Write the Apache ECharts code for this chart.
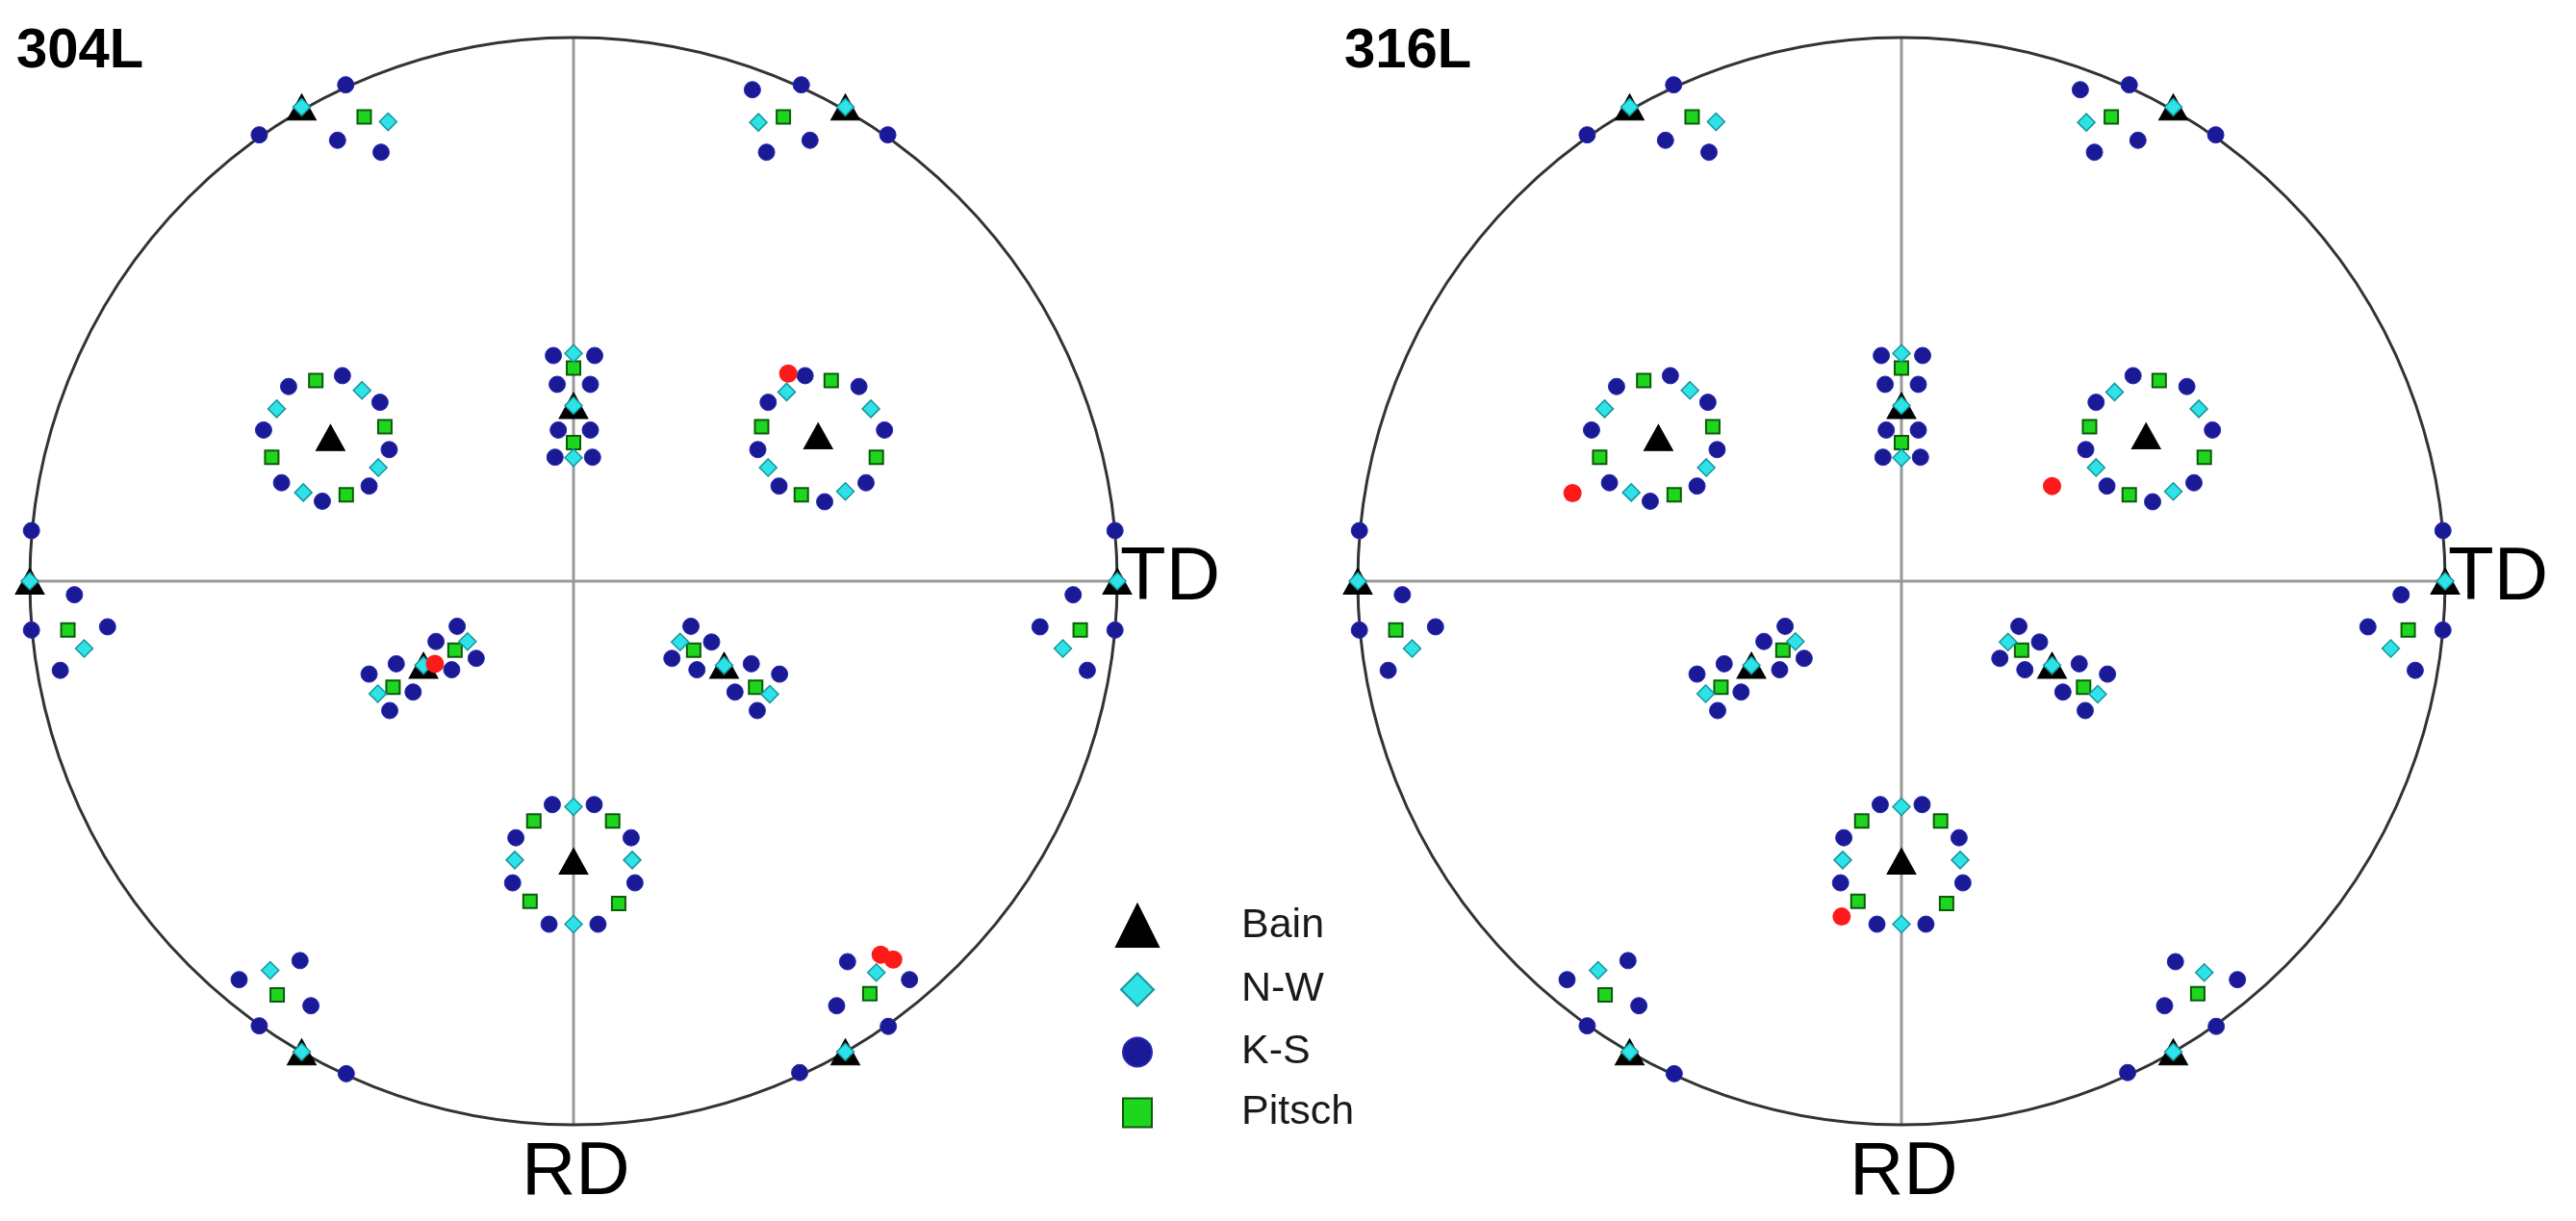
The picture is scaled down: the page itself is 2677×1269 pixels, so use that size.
<!DOCTYPE html>
<html>
<head>
<meta charset="utf-8">
<title>304L / 316L pole figures</title>
<script src="https://cdn.jsdelivr.net/npm/echarts@6/dist/echarts.min.js"></script>
<style>
	html, body { margin: 0; padding: 0; background: #fff; }
	#main { width: 2677px; height: 1269px; }
</style>
</head>
<body>
<div id="main"></div>
<script>
// pole positions in the projection plane (unit circle), x to TD, y away from RD
var bainPoles = [
	[-0.500, 0.872], [0.500, 0.872], [-1.000, 0.000], [1.000, 0.000],
	[-0.500, -0.866], [0.500, -0.866], [0.000, 0.323],
	[-0.447, 0.264], [0.450, 0.267], [0.000, -0.515],
	[-0.276, -0.155], [0.277, -0.155]
];
var nwPoles = [
	[-0.500, 0.872], [0.500, 0.872], [-1.000, 0.000], [1.000, 0.000],
	[-0.500, -0.866], [0.500, -0.866], [0.000, 0.323],
	[-0.276, -0.155], [0.277, -0.155],
	[-0.341, 0.845], [0.340, 0.844],
	[-0.389, 0.351], [-0.359, 0.209], [-0.497, 0.163], [-0.546, 0.317],
	[0.392, 0.348], [0.547, 0.317], [0.500, 0.165], [0.358, 0.209],
	[0.000, 0.419], [0.000, 0.227],
	[-0.900, -0.124], [0.900, -0.124],
	[-0.195, -0.111], [-0.360, -0.207], [0.196, -0.112], [0.361, -0.208],
	[0.000, -0.415], [0.108, -0.513], [0.000, -0.631], [-0.108, -0.513],
	[-0.558, -0.716], [0.557, -0.720]
];
var ksPoles = [
	[-0.578, 0.821], [-0.419, 0.913], [-0.434, 0.811], [-0.354, 0.789],
	[0.419, 0.913], [0.578, 0.821], [0.329, 0.904], [0.435, 0.811], [0.355, 0.789],
	[-0.425, 0.378], [-0.356, 0.329], [-0.339, 0.242], [-0.376, 0.175],
	[-0.462, 0.147], [-0.537, 0.181], [-0.570, 0.278], [-0.524, 0.358],
	[0.426, 0.378], [0.525, 0.358], [0.572, 0.278], [0.538, 0.181],
	[0.462, 0.146], [0.378, 0.175], [0.339, 0.242], [0.358, 0.329],
	[-0.037, 0.415], [0.039, 0.415], [-0.030, 0.362], [0.031, 0.362],
	[-0.028, 0.278], [0.031, 0.278], [-0.034, 0.228], [0.035, 0.228],
	[-0.997, 0.093], [-0.997, -0.090], [-0.918, -0.025], [-0.857, -0.084], [-0.944, -0.164],
	[0.996, 0.093], [0.996, -0.090], [0.919, -0.025], [0.858, -0.084], [0.945, -0.164],
	[-0.214, -0.083], [-0.253, -0.111], [-0.179, -0.142], [-0.224, -0.163],
	[-0.326, -0.152], [-0.376, -0.171], [-0.295, -0.204], [-0.338, -0.238],
	[0.216, -0.083], [0.254, -0.112], [0.181, -0.142], [0.227, -0.163],
	[0.327, -0.152], [0.379, -0.171], [0.297, -0.204], [0.338, -0.238],
	[-0.039, -0.411], [0.038, -0.411], [0.106, -0.472], [0.113, -0.555],
	[0.045, -0.631], [-0.045, -0.631], [-0.112, -0.555], [-0.106, -0.472],
	[-0.503, -0.698], [-0.615, -0.733], [-0.483, -0.781], [-0.578, -0.818], [-0.418, -0.906],
	[0.504, -0.700], [0.618, -0.733], [0.484, -0.781], [0.579, -0.819], [0.416, -0.904]
];
var pitschPoles = [
	[-0.385, 0.854], [0.386, 0.854],
	[-0.474, 0.369], [-0.347, 0.284], [-0.418, 0.159], [-0.555, 0.228],
	[0.474, 0.369], [0.557, 0.228], [0.419, 0.159], [0.346, 0.284],
	[0.000, 0.392], [0.000, 0.255],
	[-0.930, -0.090], [0.932, -0.090],
	[-0.218, -0.127], [-0.332, -0.195], [0.221, -0.127], [0.335, -0.195],
	[0.072, -0.441], [0.083, -0.593], [-0.080, -0.589], [-0.073, -0.441],
	[-0.545, -0.761], [0.545, -0.759]
];
var measured304 = [[0.395, 0.382], [-0.255, -0.152], [0.565, -0.687], [0.588, -0.696]];
var measured316 = [[-0.605, 0.162], [0.277, 0.175], [-0.110, -0.617]];

var plotNames = ['304L', '316L'];
var legendNames = ['Bain', 'N-W', 'K-S', 'Pitsch'];

function toPolar(list) {
	var out = [];
	for (var i = 0; i < list.length; i++) {
		var x = list[i][0], y = list[i][1];
		var a = Math.atan2(y, x) * 180 / Math.PI;
		if (a < 0) a += 360;
		out.push([Math.sqrt(x * x + y * y), a]);
	}
	return out;
}

var FONT = '"Liberation Sans", Arial, sans-serif';
var R = 565;
var centers = [[596, 604], [1976, 604]];

var styles = {
	'Bain': { symbol: 'triangle', symbolSize: [30, 27], itemStyle: { color: '#000', borderColor: '#000', borderWidth: 1, opacity: 1 } },
	'K-S': { symbol: 'circle', symbolSize: 17, itemStyle: { color: '#1a1a96', borderColor: '#2828b4', borderWidth: 1, opacity: 1 } },
	'Pitsch': { symbol: 'rect', symbolSize: 14, itemStyle: { color: '#1fd61f', borderColor: '#0b5a0b', borderWidth: 2, opacity: 1 } },
	'N-W': { symbol: 'diamond', symbolSize: 18, itemStyle: { color: '#2de3e8', borderColor: '#17959b', borderWidth: 1.5, opacity: 1 } }
};
var poleData = { 'Bain': bainPoles, 'K-S': ksPoles, 'Pitsch': pitschPoles, 'N-W': nwPoles };
var drawOrder = ['Bain', 'K-S', 'Pitsch', 'N-W'];

var polar = [], angleAxis = [], radiusAxis = [], series = [];
for (var p = 0; p < 2; p++) {
	polar.push({ center: centers[p], radius: R });
	angleAxis.push({
		polarIndex: p,
		type: 'value',
		min: 0,
		max: 360,
		interval: 90,
		startAngle: 0,
		clockwise: false,
		axisLine: { show: true, lineStyle: { color: '#333', width: 3 } },
		axisTick: { show: false },
		axisLabel: { show: false },
		splitLine: { show: true, lineStyle: { color: '#999', width: 3 } }
	});
	radiusAxis.push({
		polarIndex: p,
		min: 0,
		max: 1,
		axisLine: { show: false },
		axisTick: { show: false },
		axisLabel: { show: false },
		splitLine: { show: false }
	});
	for (var k = 0; k < drawOrder.length; k++) {
		var nm = drawOrder[k];
		series.push({
			name: nm,
			type: 'scatter',
			coordinateSystem: 'polar',
			polarIndex: p,
			clip: false,
			symbol: styles[nm].symbol,
			symbolSize: styles[nm].symbolSize,
			itemStyle: styles[nm].itemStyle,
			silent: true,
			z: 2 + k,
			data: toPolar(poleData[nm])
		});
	}
	series.push({
		name: 'measured',
		type: 'scatter',
		coordinateSystem: 'polar',
		polarIndex: p,
		clip: false,
		symbol: 'circle',
		symbolSize: 19,
		itemStyle: { color: '#ff1a1a', opacity: 1 },
		z: 10,
		data: toPolar(p == 0 ? measured304 : measured316)
	});
}

// one legend block per entry so each icon can keep its own size
var legendIcon = { 'Bain': 44, 'N-W': 34, 'K-S': 30, 'Pitsch': 30 };
var legends = [];
for (var i = 0; i < legendNames.length; i++) {
	var s = legendIcon[legendNames[i]];
	legends.push({
		data: [legendNames[i]],
		left: 1181 - s / 2,
		top: 961 + i * 63 - s / 2,
		padding: 0,
		itemWidth: s,
		itemHeight: s,
		selectedMode: false,
		textStyle: { fontFamily: FONT, fontSize: 43, color: '#1a1a1a', padding: [0, 0, 0, 103 - s / 2] }
	});
}

var myChart = echarts.init(document.getElementById('main'));
var option = {
	backgroundColor: '#fff',
	animation: false,
	title: [
		{ text: plotNames[0], left: 17, top: 25, padding: 0, textStyle: { fontFamily: FONT, fontSize: 58, fontWeight: 'bold', color: '#000' } },
		{ text: plotNames[1], left: 1397, top: 25, padding: 0, textStyle: { fontFamily: FONT, fontSize: 58, fontWeight: 'bold', color: '#000' } },
		{ text: 'TD', left: 1164, top: 562, padding: 0, textStyle: { fontFamily: FONT, fontSize: 78, fontWeight: 'normal', color: '#000' } },
		{ text: 'TD', left: 2544, top: 562, padding: 0, textStyle: { fontFamily: FONT, fontSize: 78, fontWeight: 'normal', color: '#000' } },
		{ text: 'RD', left: 542, top: 1180, padding: 0, textStyle: { fontFamily: FONT, fontSize: 78, fontWeight: 'normal', color: '#000' } },
		{ text: 'RD', left: 1922, top: 1180, padding: 0, textStyle: { fontFamily: FONT, fontSize: 78, fontWeight: 'normal', color: '#000' } }
	],
	legend: legends,
	polar: polar,
	angleAxis: angleAxis,
	radiusAxis: radiusAxis,
	series: series
};
myChart.setOption(option);
</script>
</body>
</html>
